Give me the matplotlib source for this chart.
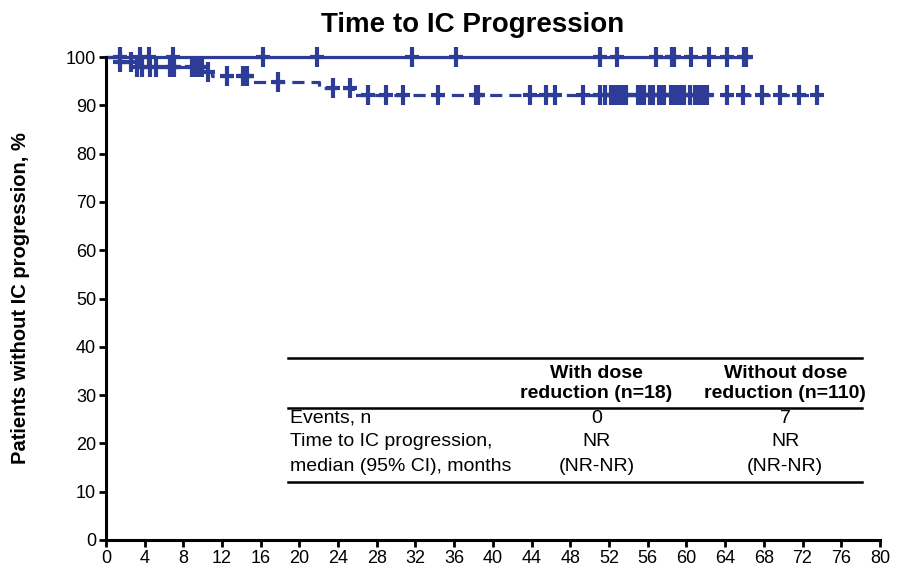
import numpy as np
import matplotlib
matplotlib.use("Agg")
import matplotlib.pyplot as plt

plt.rcParams['font.family'] = ['Liberation Sans', 'DejaVu Sans']

# Kaplan-Meier data
title = "Time to IC Progression"
ylabel = "Patients without IC progression, %"
xticks = list(range(0, 81, 4))
yticks = list(range(0, 101, 10))

# with dose reduction (n=18): no events
with_end = 66.5
with_censor = [1.45, 3.5, 4.5, 6.9, 16.2, 21.8, 31.6, 36.2, 51.1, 52.8, 56.9,
               58.5, 58.7, 60.5, 62.3, 64.2, 65.9, 66.2]

# without dose reduction (n=110): 7 events
without_events = [1.3, 2.7, 10.1, 11.0, 15.2, 22.0, 25.5]
without_levels = [98.9, 97.9, 97.0, 96.0, 94.8, 93.6, 92.2]
without_end = 73.6
without_censor = [1.5, 2.6, 3.2, 3.7, 4.6, 5.2, 6.6, 6.8, 7.0, 8.9, 9.2, 9.6,
                  9.9, 10.6, 12.5, 14.2, 14.4, 14.6, 17.8, 23.5, 25.2, 27.1,
                  29.0, 30.7, 34.3, 38.3, 38.5, 43.8, 45.5, 46.4, 49.3, 51.1,
                  51.6, 52.2, 52.4, 52.6, 52.8, 53.0, 53.2, 53.4, 53.6, 53.8,
                  55.0, 55.2, 55.4, 55.6, 56.2, 56.5, 57.2, 57.4, 57.7, 58.4,
                  58.6, 58.8, 59.0, 59.2, 59.6, 59.8, 60.4, 60.9, 61.1, 61.5,
                  61.8, 62.1, 64.2, 65.8, 67.8, 69.7, 71.6, 73.5]

# summary table
col_headers = ["With dose\nreduction (n=18)", "Without dose\nreduction (n=110)"]
row_labels = ["Events, n", "Time to IC progression,", "median (95% CI), months"]
col_with = ["0", "NR", "(NR-NR)"]
col_without = ["7", "NR", "(NR-NR)"]

color = '#2d3c96'


def censor_marks(ax, xs, ys):
    # tall thin cross, like the original censor ticks
    ax.plot(xs, ys, ls='none', marker='|', ms=14, mew=3, color=color, clip_on=False)
    ax.plot(xs, ys, ls='none', marker='_', ms=10, mew=3, color=color, clip_on=False)


fig = plt.figure(figsize=(8.97, 5.76), dpi=100)
ax = fig.add_axes([0.118, 0.0625, 0.863, 0.8385])

# solid curve
ax.plot([0, with_end], [100, 100], color=color, lw=2.3, clip_on=False)
censor_marks(ax, with_censor, [100] * len(with_censor))

# dashed step curve
t = [0] + without_events + [without_end]
s = [100] + without_levels + [without_levels[-1]]
ax.step(t, s, where='post', color=color, lw=2.3, dashes=(3.8, 2.2), clip_on=False)
lv = np.array([100] + without_levels)
cy = lv[np.searchsorted(without_events, without_censor, side='right')]
censor_marks(ax, without_censor, cy)

ax.set_xlim(0, 80)
ax.set_ylim(0, 100)
ax.set_xticks(xticks)
ax.set_yticks(yticks)
ax.tick_params(labelsize=13, width=2, length=5, direction='out', pad=2)
for side in ['top', 'right']:
    ax.spines[side].set_visible(False)
for side in ['left', 'bottom']:
    ax.spines[side].set_linewidth(2.2)
ax.set_ylabel(ylabel, fontsize=14.5, fontweight='bold', labelpad=26)
fig.suptitle(title, fontsize=20, fontweight='bold', x=0.527, y=0.98)

# table drawn inside the axes
x0, x1 = 18.8, 78.1
for yy in [37.7, 27.3, 12.0]:
    ax.plot([x0, x1], [yy, yy], color='black', lw=1.8)
cx = [50.7, 70.2]
for xc, h in zip(cx, col_headers):
    ax.text(xc, 32.4, h, ha='center', va='center', fontsize=14,
            fontweight='bold', linespacing=1.2)
row_y = [25.2, 20.4, 15.3]
for yy, lab, a, b in zip(row_y, row_labels, col_with, col_without):
    ax.text(x0 + 0.2, yy, lab, ha='left', va='center', fontsize=14)
    ax.text(cx[0], yy, a, ha='center', va='center', fontsize=14)
    ax.text(cx[1], yy, b, ha='center', va='center', fontsize=14)

fig.savefig("out.png", dpi=100)
